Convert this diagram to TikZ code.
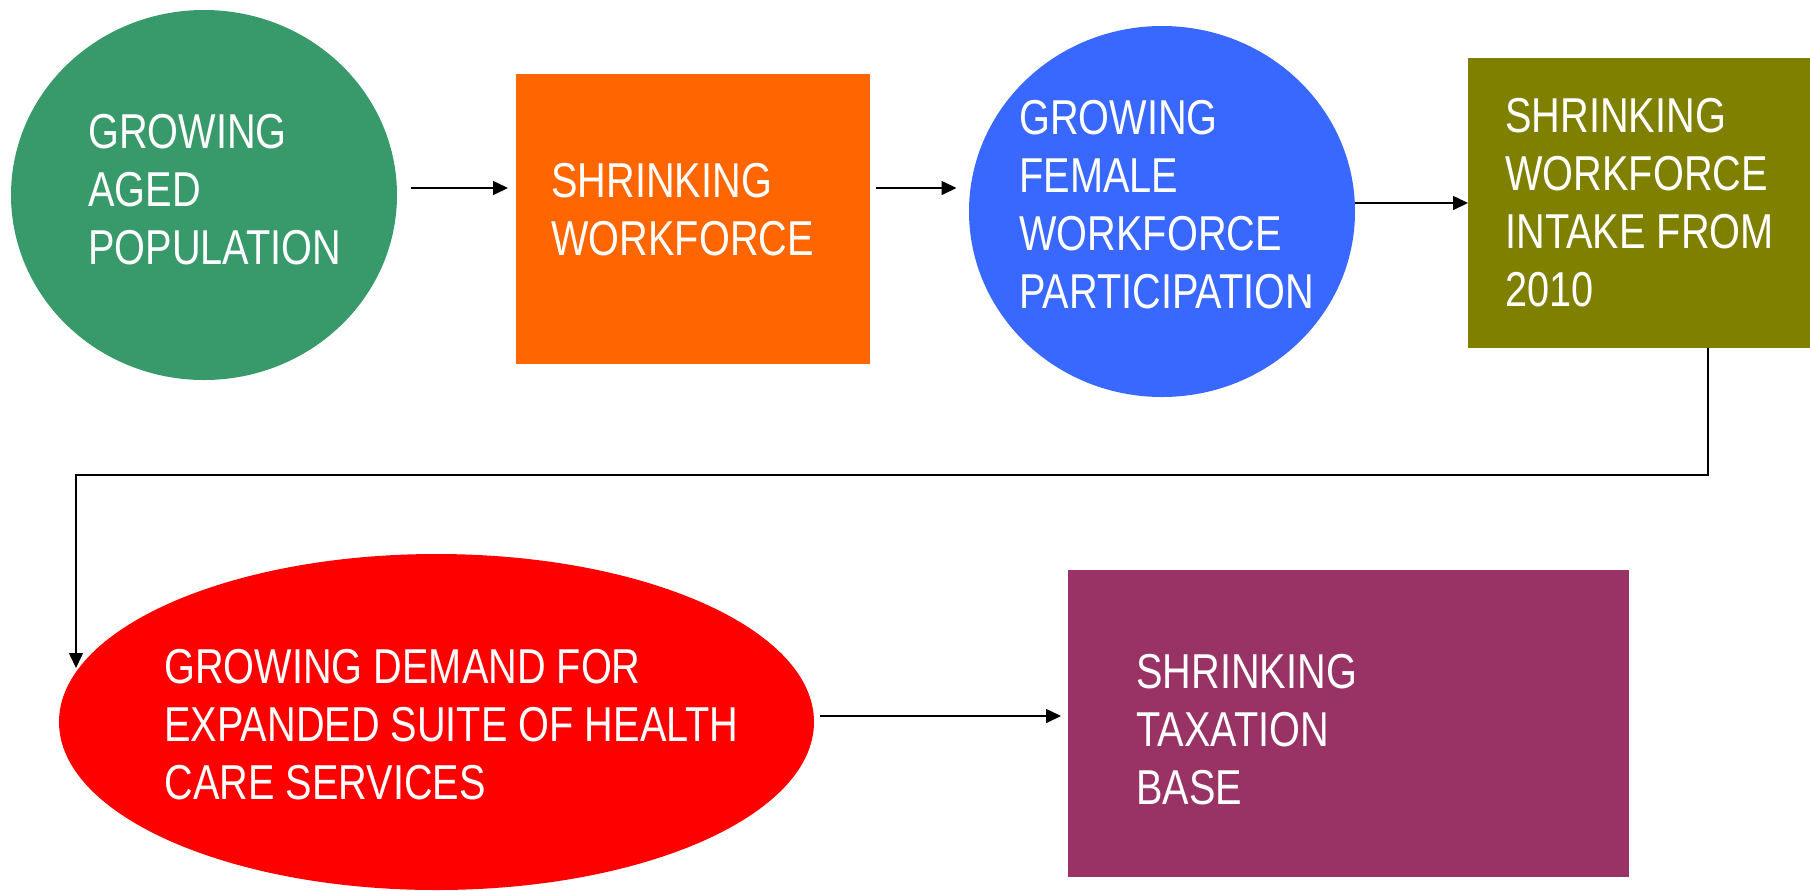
\documentclass[tikz,border=0pt]{standalone}
\usepackage{fontspec}
\setmainfont{Liberation Sans}[FakeStretch=0.81]
\usetikzlibrary{shapes.geometric,arrows.meta}
\definecolor{cgreen}{HTML}{389A6A}
\definecolor{corange}{HTML}{FF6600}
\definecolor{cblue}{HTML}{3868FF}
\definecolor{colive}{HTML}{808000}
\definecolor{cred}{HTML}{FF0000}
\definecolor{cpurple}{HTML}{993366}
\newcommand{\Lines}[1]{\vtop{\baselineskip=29pt\lineskiplimit=-100pt\lineskip=0pt #1}}
\begin{document}
\begin{tikzpicture}[x=0.5pt,y=-0.5pt,
  shp/.style={draw=none,inner sep=0pt,outer sep=0pt},
  ell/.style={shp,ellipse},
  box/.style={shp,rectangle},
  lbl/.style={anchor=base west,inner sep=0pt,text=white,font=\fontsize{24.5}{29}\selectfont},
  arr/.style={line width=0.8pt,-{Triangle[length=7.5pt,width=7pt]}}]
\useasboundingbox (0,0) rectangle (1810,890);
\node[ell,fill=cgreen,minimum width=193pt,minimum height=185pt] (g) at (204,195) {};
\node[box,fill=corange,minimum width=177pt,minimum height=145pt] (o) at (693,219) {};
\node[ell,fill=cblue,minimum width=193pt,minimum height=185.5pt] (b) at (1162,211.5) {};
\node[box,fill=colive,minimum width=171pt,minimum height=145pt] (ol) at (1639,203) {};
\node[ell,fill=cred,minimum width=377.5pt,minimum height=168pt] (r) at (436.5,722) {};
\node[box,fill=cpurple,minimum width=280.5pt,minimum height=153.5pt] (p) at (1348.5,723.5) {};
% labels
\node[lbl] (gt) at (88,148) {\Lines{\hbox{GROWING}\hbox{AGED}\hbox{POPULATION}}};
\node[lbl] (ot) at (551,197) {\Lines{\hbox{SHRINKING}\hbox{WORKFORCE}}};
\node[lbl] (bt) at (1019,134) {\Lines{\hbox{GROWING}\hbox{FEMALE}\hbox{WORKFORCE}\hbox{PARTICIPATION}}};
\node[lbl] (olt) at (1505,132) {\Lines{\hbox{SHRINKING}\hbox{WORKFORCE}\hbox{INTAKE FROM}\hbox{2010}}};
\node[lbl] (rt) at (164,683) {\Lines{\hbox{GROWING DEMAND FOR}\hbox{EXPANDED SUITE OF HEALTH}\hbox{CARE SERVICES}}};
\node[lbl] (pt) at (1136,688) {\Lines{\hbox{SHRINKING}\hbox{TAXATION}\hbox{BASE}}};
% connectors
\draw[arr] ([shift={(14,-7)}]g.east) -- ([shift={(-8,-31)}]o.west);
\draw[arr] ([shift={(6,-31)}]o.east) -- ([shift={(-12.5,-23.5)}]b.west);
\draw[arr] ([shift={(0,-8.5)}]b.east) -- (ol.west);
\coordinate (k) at (76,475);
\draw[arr] ([shift={(69,0)}]ol.south) |- (k) -- ([shift={(17,-54)}]r.west);
\draw[arr] ([shift={(6,-6)}]r.east) -- ([shift={(-7,-7.5)}]p.west);
\end{tikzpicture}
\end{document}
